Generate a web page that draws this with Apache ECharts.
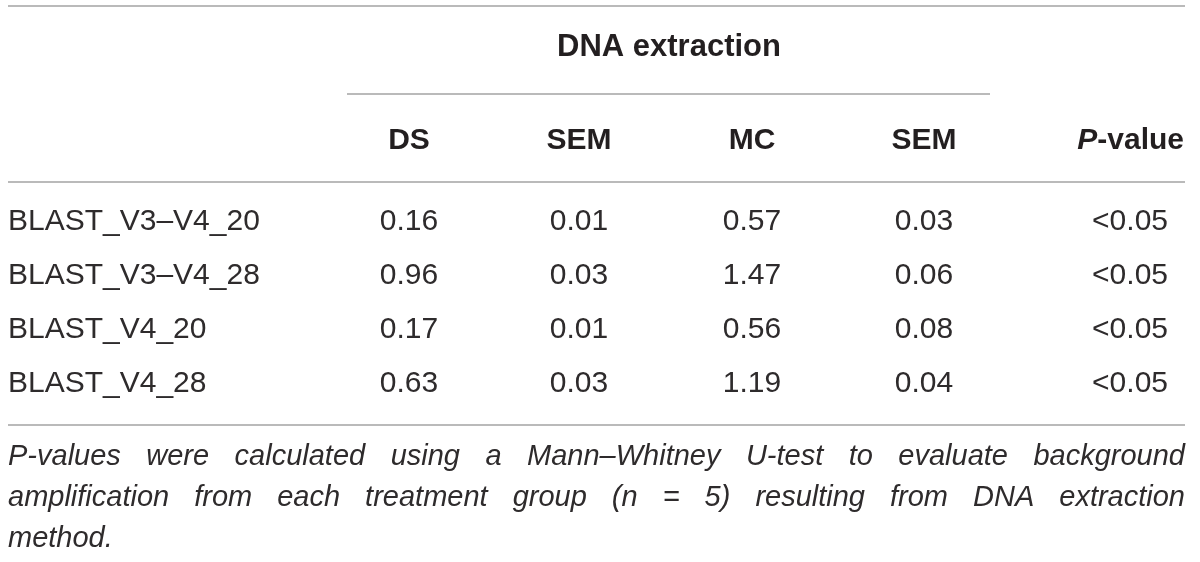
<!DOCTYPE html>
<html>
<head>
<meta charset="utf-8">
<script src="https://cdn.jsdelivr.net/npm/echarts@6/dist/echarts.min.js"></script>
<style>
    html, body { margin: 0; padding: 0; background: #fff; }
    #main { width: 1200px; height: 562px; }
</style>
</head>
<body>
<div id="main"></div>
<script>
    // table content
    var groupTitle = 'DNA extraction';
    var columns = ['DS', 'SEM', 'MC', 'SEM'];
    var rowLabels = ['BLAST_V3\u2013V4_20', 'BLAST_V3\u2013V4_28', 'BLAST_V4_20', 'BLAST_V4_28'];
    var dsValues = ['0.16', '0.96', '0.17', '0.63'];
    var dsSem = ['0.01', '0.03', '0.01', '0.03'];
    var mcValues = ['0.57', '1.47', '0.56', '1.19'];
    var mcSem = ['0.03', '0.06', '0.08', '0.04'];
    var pValues = ['<0.05', '<0.05', '<0.05', '<0.05'];
    var footnoteLines = [
        'P-values were calculated using a Mann\u2013Whitney U-test to evaluate background',
        'amplification from each treatment group (n = 5) resulting from DNA extraction',
        'method.'
    ];

    var FONT = '"Liberation Sans", Arial, Helvetica, sans-serif';
    var TEXT = '#231f20';
    var BODY = '#2e2b2c';
    var RULE = '#a3a3a3';

    var left = 8, right = 1185;
    var colX = [409, 579, 752, 924];
    var pRight = 1168;
    var rowY = [222, 276, 330, 384];

    var elements = [];

    function rule(x1, x2, y) {
        elements.push({
            type: 'line',
            shape: { x1: x1, y1: y, x2: x2, y2: y },
            style: { stroke: RULE, lineWidth: 1.6 },
            silent: true
        });
    }
    function text(str, x, y, align, size, weight, style, color) {
        elements.push({
            type: 'text',
            x: x, y: y,
            style: {
                text: str,
                fill: color || TEXT,
                fontFamily: FONT,
                fontSize: size,
                fontWeight: weight || 'normal',
                fontStyle: style || 'normal',
                textAlign: align,
                textVerticalAlign: 'middle'
            },
            silent: true
        });
    }

    // rules
    rule(left, right, 6);
    rule(347, 990, 94);
    rule(left, right, 182);
    rule(left, right, 425);

    // header
    text(groupTitle, 669, 47, 'center', 31, 'bold');
    columns.forEach(function (c, i) {
        text(c, colX[i], 141, 'center', 30, 'bold');
    });
    elements.push({
        type: 'text',
        x: 1184, y: 141,
        style: {
            text: '{i|P}-value',
            fill: TEXT,
            fontFamily: FONT,
            fontSize: 30,
            fontWeight: 'bold',
            textAlign: 'right',
            textVerticalAlign: 'middle',
            rich: {
                i: { fontFamily: FONT, fontSize: 30, fontWeight: 'bold', fontStyle: 'italic', fill: TEXT }
            }
        },
        silent: true
    });

    // body rows
    rowLabels.forEach(function (label, r) {
        var y = rowY[r];
        text(label, left, y, 'left', 30, 'normal', 'normal', BODY);
        [dsValues, dsSem, mcValues, mcSem].forEach(function (arr, c) {
            text(arr[r], colX[c], y, 'center', 30, 'normal', 'normal', BODY);
        });
        text(pValues[r], pRight, y, 'right', 30, 'normal', 'normal', BODY);
    });

    // justified italic footnote
    var fnSize = 29;
    var ctx = document.createElement('canvas').getContext('2d');
    ctx.font = 'italic ' + fnSize + 'px ' + FONT;
    footnoteLines.forEach(function (line, li) {
        var y = 457 + li * 41;
        var words = line.split(' ');
        var last = li === footnoteLines.length - 1;
        var widths = words.map(function (w) { return ctx.measureText(w).width; });
        var total = widths.reduce(function (a, b) { return a + b; }, 0);
        var gap = last ? ctx.measureText(' ').width : (right - left - total) / (words.length - 1);
        var x = left;
        words.forEach(function (w, i) {
            text(w, x, y, 'left', fnSize, 'normal', 'italic', BODY);
            x += widths[i] + gap;
        });
    });

    var chart = echarts.init(document.getElementById('main'), null, { renderer: 'canvas' });
    chart.setOption({
        backgroundColor: '#ffffff',
        animation: false,
        graphic: { elements: elements }
    });
</script>
</body>
</html>
